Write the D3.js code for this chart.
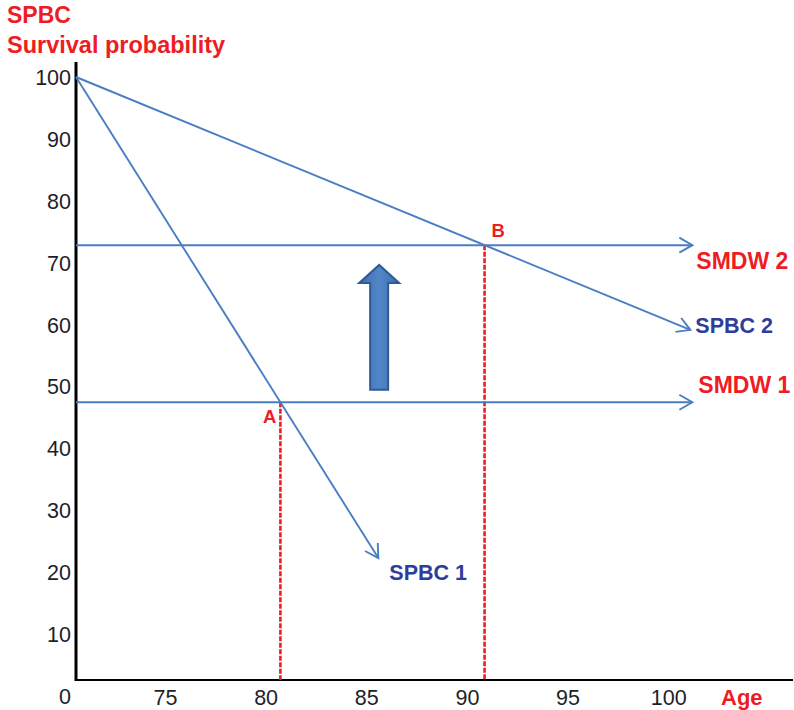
<!DOCTYPE html>
<html>
<head>
<meta charset="utf-8">
<script src="https://d3js.org/d3.v7.min.js"></script>
<style>
  html, body { margin: 0; padding: 0; background: #fff; }
  svg { display: block; }
</style>
</head>
<body>
<svg id="chart" width="794" height="710"></svg>
<script>
// Axis ticks
const ageTicks = [75, 80, 85, 90, 95, 100];
const probTicks = [0, 10, 20, 30, 40, 50, 60, 70, 80, 90, 100];

// Age range of the drawing (the origin is a broken axis start)
const ageStart = 70.58;
const ageEnd = 106.2;

// Survival probability curves (age, probability)
const spbc1 = [[ageStart, 100], [85.6, 22.2]];
const spbc2 = [[ageStart, 100], [101.1, 59.1]];

// SMDW thresholds (probability level) and where their arrows stop
const smdw1Level = 47.4;
const smdw2Level = 72.8;
const smdwEndAge = 101.2;

// Upward shift arrow between the two thresholds
const shiftArrow = { age: 85.64, from: 49.4, to: 69.6 };

const red = "#ee1c25";
const lineBlue = "#4a7ec2";
const labelBlue = "#2e3d99";
const font = "Liberation Sans, Arial, sans-serif";

const svg = d3.select("#chart");

const x = d3.scaleLinear().domain([ageStart, ageEnd]).range([76, 793]);
const y = d3.scaleLinear().domain([0, 100]).range([695.3, 77]);

const axisY = 680; // pixel row of the horizontal axis line

// Title on the vertical axis
svg.append("text").attr("x", 7).attr("y", 23)
  .attr("font-family", font)
  .attr("font-weight", "bold").attr("font-size", 23).attr("fill", red)
  .text("SPBC");
svg.append("text").attr("x", 7).attr("y", 53)
  .attr("font-family", font)
  .attr("font-weight", "bold").attr("font-size", 23.5).attr("fill", red)
  .text("Survival probability");

// Y axis tick labels
const yAxis = d3.axisLeft(y).tickValues(probTicks).tickSize(0).tickPadding(5)
  .tickFormat(d3.format("d"));
const gy = svg.append("g").attr("transform", "translate(76,0)").call(yAxis);
gy.select(".domain").remove();
gy.selectAll("text")
  .attr("font-family", font)
  .attr("font-size", 21.5).attr("fill", "#1e1e28").attr("dy", "0.36em");

// X axis tick labels
const xAxis = d3.axisBottom(x).tickValues(ageTicks).tickSize(0).tickPadding(0)
  .tickFormat(d3.format("d"));
const gx = svg.append("g").attr("transform", `translate(0,${axisY})`).call(xAxis);
gx.select(".domain").remove();
gx.selectAll("text")
  .attr("font-family", font)
  .attr("font-size", 21.5).attr("fill", "#1e1e28").attr("dy", "1.15em");

svg.append("text").attr("x", 721).attr("y", 705)
  .attr("font-family", font)
  .attr("font-weight", "bold").attr("font-size", 22).attr("fill", red)
  .text("Age");

// Axis lines
svg.append("line").attr("x1", x(ageStart)).attr("x2", x(ageEnd))
  .attr("y1", axisY).attr("y2", axisY)
  .attr("stroke", "#000").attr("stroke-width", 2.2);
svg.append("line").attr("x1", x(ageStart)).attr("x2", x(ageStart))
  .attr("y1", 62).attr("y2", axisY + 1)
  .attr("stroke", "#000").attr("stroke-width", 3);

// Intersection of a curve with a horizontal level
function crossAge(curve, level) {
  const [[a0, p0], [a1, p1]] = curve;
  return a0 + (level - p0) / (p1 - p0) * (a1 - a0);
}
const ageA = crossAge(spbc1, smdw1Level);
const ageB = crossAge(spbc2, smdw2Level);

// Dashed drop lines from A and B
[[ageA, smdw1Level], [ageB, smdw2Level]].forEach(([a, p]) => {
  svg.append("line")
    .attr("x1", x(a)).attr("x2", x(a))
    .attr("y1", y(p)).attr("y2", axisY)
    .attr("stroke", red).attr("stroke-width", 2.6)
    .attr("stroke-dasharray", "5,1.5");
});

// Line with an open chevron arrowhead at its end
function arrowLine(points) {
  const px = points.map(([a, p]) => [x(a), y(p)]);
  svg.append("path")
    .attr("d", d3.line()(px))
    .attr("fill", "none").attr("stroke", lineBlue).attr("stroke-width", 1.9);
  const [xa, ya] = px[px.length - 2];
  const [xb, yb] = px[px.length - 1];
  const ang = Math.atan2(yb - ya, xb - xa);
  const len = 13, half = 7.5;
  const back = [xb - len * Math.cos(ang), yb - len * Math.sin(ang)];
  const nx = -Math.sin(ang) * half, ny = Math.cos(ang) * half;
  svg.append("path")
    .attr("d", d3.line()([[back[0] + nx, back[1] + ny], [xb, yb], [back[0] - nx, back[1] - ny]]))
    .attr("fill", "none").attr("stroke", lineBlue).attr("stroke-width", 1.9)
    .attr("stroke-linejoin", "miter");
  return [xb, yb];
}

const endS1 = arrowLine(spbc1);
const endS2 = arrowLine(spbc2);
const endM1 = arrowLine([[ageStart, smdw1Level], [smdwEndAge, smdw1Level]]);
const endM2 = arrowLine([[ageStart, smdw2Level], [smdwEndAge, smdw2Level]]);

// Big upward arrow
const defs = svg.append("defs");
const grad = defs.append("linearGradient").attr("id", "shaftFill")
  .attr("x1", "0").attr("x2", "1").attr("y1", "0").attr("y2", "0");
grad.append("stop").attr("offset", "0").attr("stop-color", "#3d6db0");
grad.append("stop").attr("offset", "0.5").attr("stop-color", "#5286c8");
grad.append("stop").attr("offset", "1").attr("stop-color", "#3d6db0");

const cx = x(shiftArrow.age);
const yBot = y(shiftArrow.from), yTip = y(shiftArrow.to);
const shaftHalf = 9, headHalf = 20, headLen = 18;
svg.append("path")
  .attr("d", d3.line()([
    [cx - shaftHalf, yBot], [cx - shaftHalf, yTip + headLen], [cx - headHalf, yTip + headLen],
    [cx, yTip], [cx + headHalf, yTip + headLen], [cx + shaftHalf, yTip + headLen],
    [cx + shaftHalf, yBot]
  ]) + "Z")
  .attr("fill", "url(#shaftFill)").attr("stroke", "#2f5b94").attr("stroke-width", 2)
  .attr("stroke-linejoin", "miter");

// Labels
function label(txt, xPos, yPos, color, size, anchor) {
  svg.append("text").attr("x", xPos).attr("y", yPos)
    .attr("font-family", font)
    .attr("font-weight", "bold").attr("font-size", size).attr("fill", color)
    .attr("text-anchor", anchor || "start")
    .text(txt);
}
label("SPBC 1", endS1[0] + 11, endS1[1] + 22, labelBlue, 21.5);
label("SPBC 2", endS2[0] + 5, endS2[1] + 3, labelBlue, 21.5);
label("SMDW 2", endM2[0] + 4, endM2[1] + 24, red, 23);
label("SMDW 1", endM1[0] + 6, endM1[1] - 9, red, 23);
label("A", x(ageA) - 4, y(smdw1Level) + 21, red, 18.5, "end");
label("B", x(ageB) + 7, y(smdw2Level) - 8, red, 18.5);
</script>
</body>
</html>
